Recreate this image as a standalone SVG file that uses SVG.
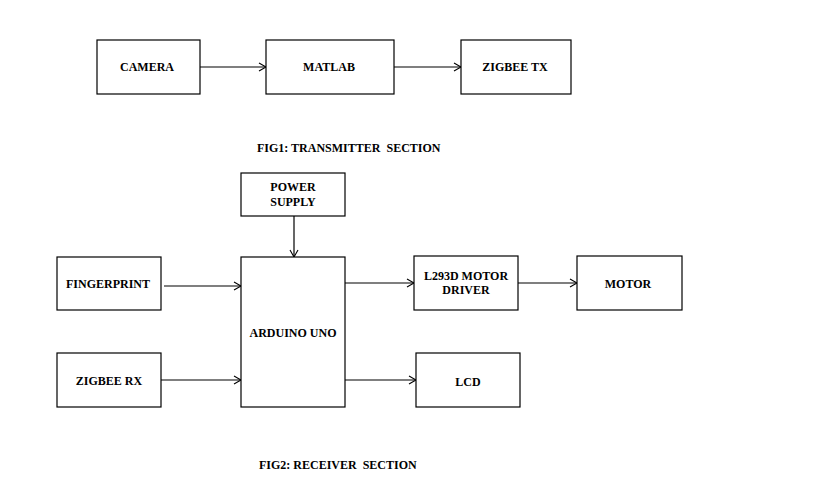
<svg xmlns="http://www.w3.org/2000/svg" width="819" height="495" viewBox="0 0 819 495">
<style>
.box{fill:#fff;stroke:#000;stroke-width:1.2}
.t{font-family:"Liberation Serif","DejaVu Serif",serif;font-weight:bold;font-size:12px;fill:#000;text-anchor:middle;dominant-baseline:central}
.c{font-family:"Liberation Serif","DejaVu Serif",serif;font-weight:bold;font-size:12px;fill:#000;white-space:pre}
.ln{stroke:#000;stroke-width:1.2;fill:none;marker-end:url(#ah)}
</style>
<defs>
<marker id="ah" markerUnits="userSpaceOnUse" markerWidth="12" markerHeight="12" refX="8" refY="5" orient="auto">
<path d="M1,1 L8,5 L1,9" fill="none" stroke="#000" stroke-width="1.1"/>
</marker>
</defs>
<rect width="819" height="495" fill="#fff"/>
<g id="connectors">
<line class="ln" x1="200" y1="67" x2="266" y2="67"/>
<line class="ln" x1="394" y1="67" x2="461" y2="67"/>
<line class="ln" x1="294" y1="216" x2="294" y2="257"/>
<line class="ln" x1="164" y1="286" x2="241" y2="286"/>
<line class="ln" x1="161" y1="380" x2="241" y2="380"/>
<line class="ln" x1="345" y1="283" x2="414" y2="283"/>
<line class="ln" x1="518" y1="283" x2="577" y2="283"/>
<line class="ln" x1="345" y1="380" x2="416" y2="380"/>
</g>
<g id="camera"><rect class="box" x="97" y="40" width="103" height="54"/><text class="t" x="147" y="67">CAMERA</text></g>
<g id="matlab"><rect class="box" x="266" y="40" width="128" height="54"/><text class="t" x="329" y="67">MATLAB</text></g>
<g id="zigbeetx"><rect class="box" x="461" y="40" width="110" height="54"/><text class="t" x="515" y="67">ZIGBEE TX</text></g>
<text class="c" x="257" y="152" xml:space="preserve">FIG1: TRANSMITTER  SECTION</text>
<g id="power"><rect class="box" x="241" y="173" width="104" height="43"/><text class="t" x="293" y="187">POWER</text><text class="t" x="293" y="202">SUPPLY</text></g>
<g id="arduino"><rect class="box" x="241" y="257" width="104" height="150"/><text class="t" x="293" y="333">ARDUINO UNO</text></g>
<g id="fingerprint"><rect class="box" x="57" y="257" width="104" height="53"/><text class="t" x="108" y="284">FINGERPRINT</text></g>
<g id="zigbeerx"><rect class="box" x="57" y="353" width="104" height="54"/><text class="t" x="109" y="381">ZIGBEE RX</text></g>
<g id="driver"><rect class="box" x="414" y="256" width="104" height="54"/><text class="t" x="466" y="276">L293D MOTOR</text><text class="t" x="466" y="290">DRIVER</text></g>
<g id="motor"><rect class="box" x="577" y="256" width="105" height="54"/><text class="t" x="628" y="284">MOTOR</text></g>
<g id="lcd"><rect class="box" x="416" y="353" width="104" height="54"/><text class="t" x="468" y="382">LCD</text></g>
<text class="c" x="259" y="469" xml:space="preserve">FIG2: RECEIVER  SECTION</text>
</svg>
